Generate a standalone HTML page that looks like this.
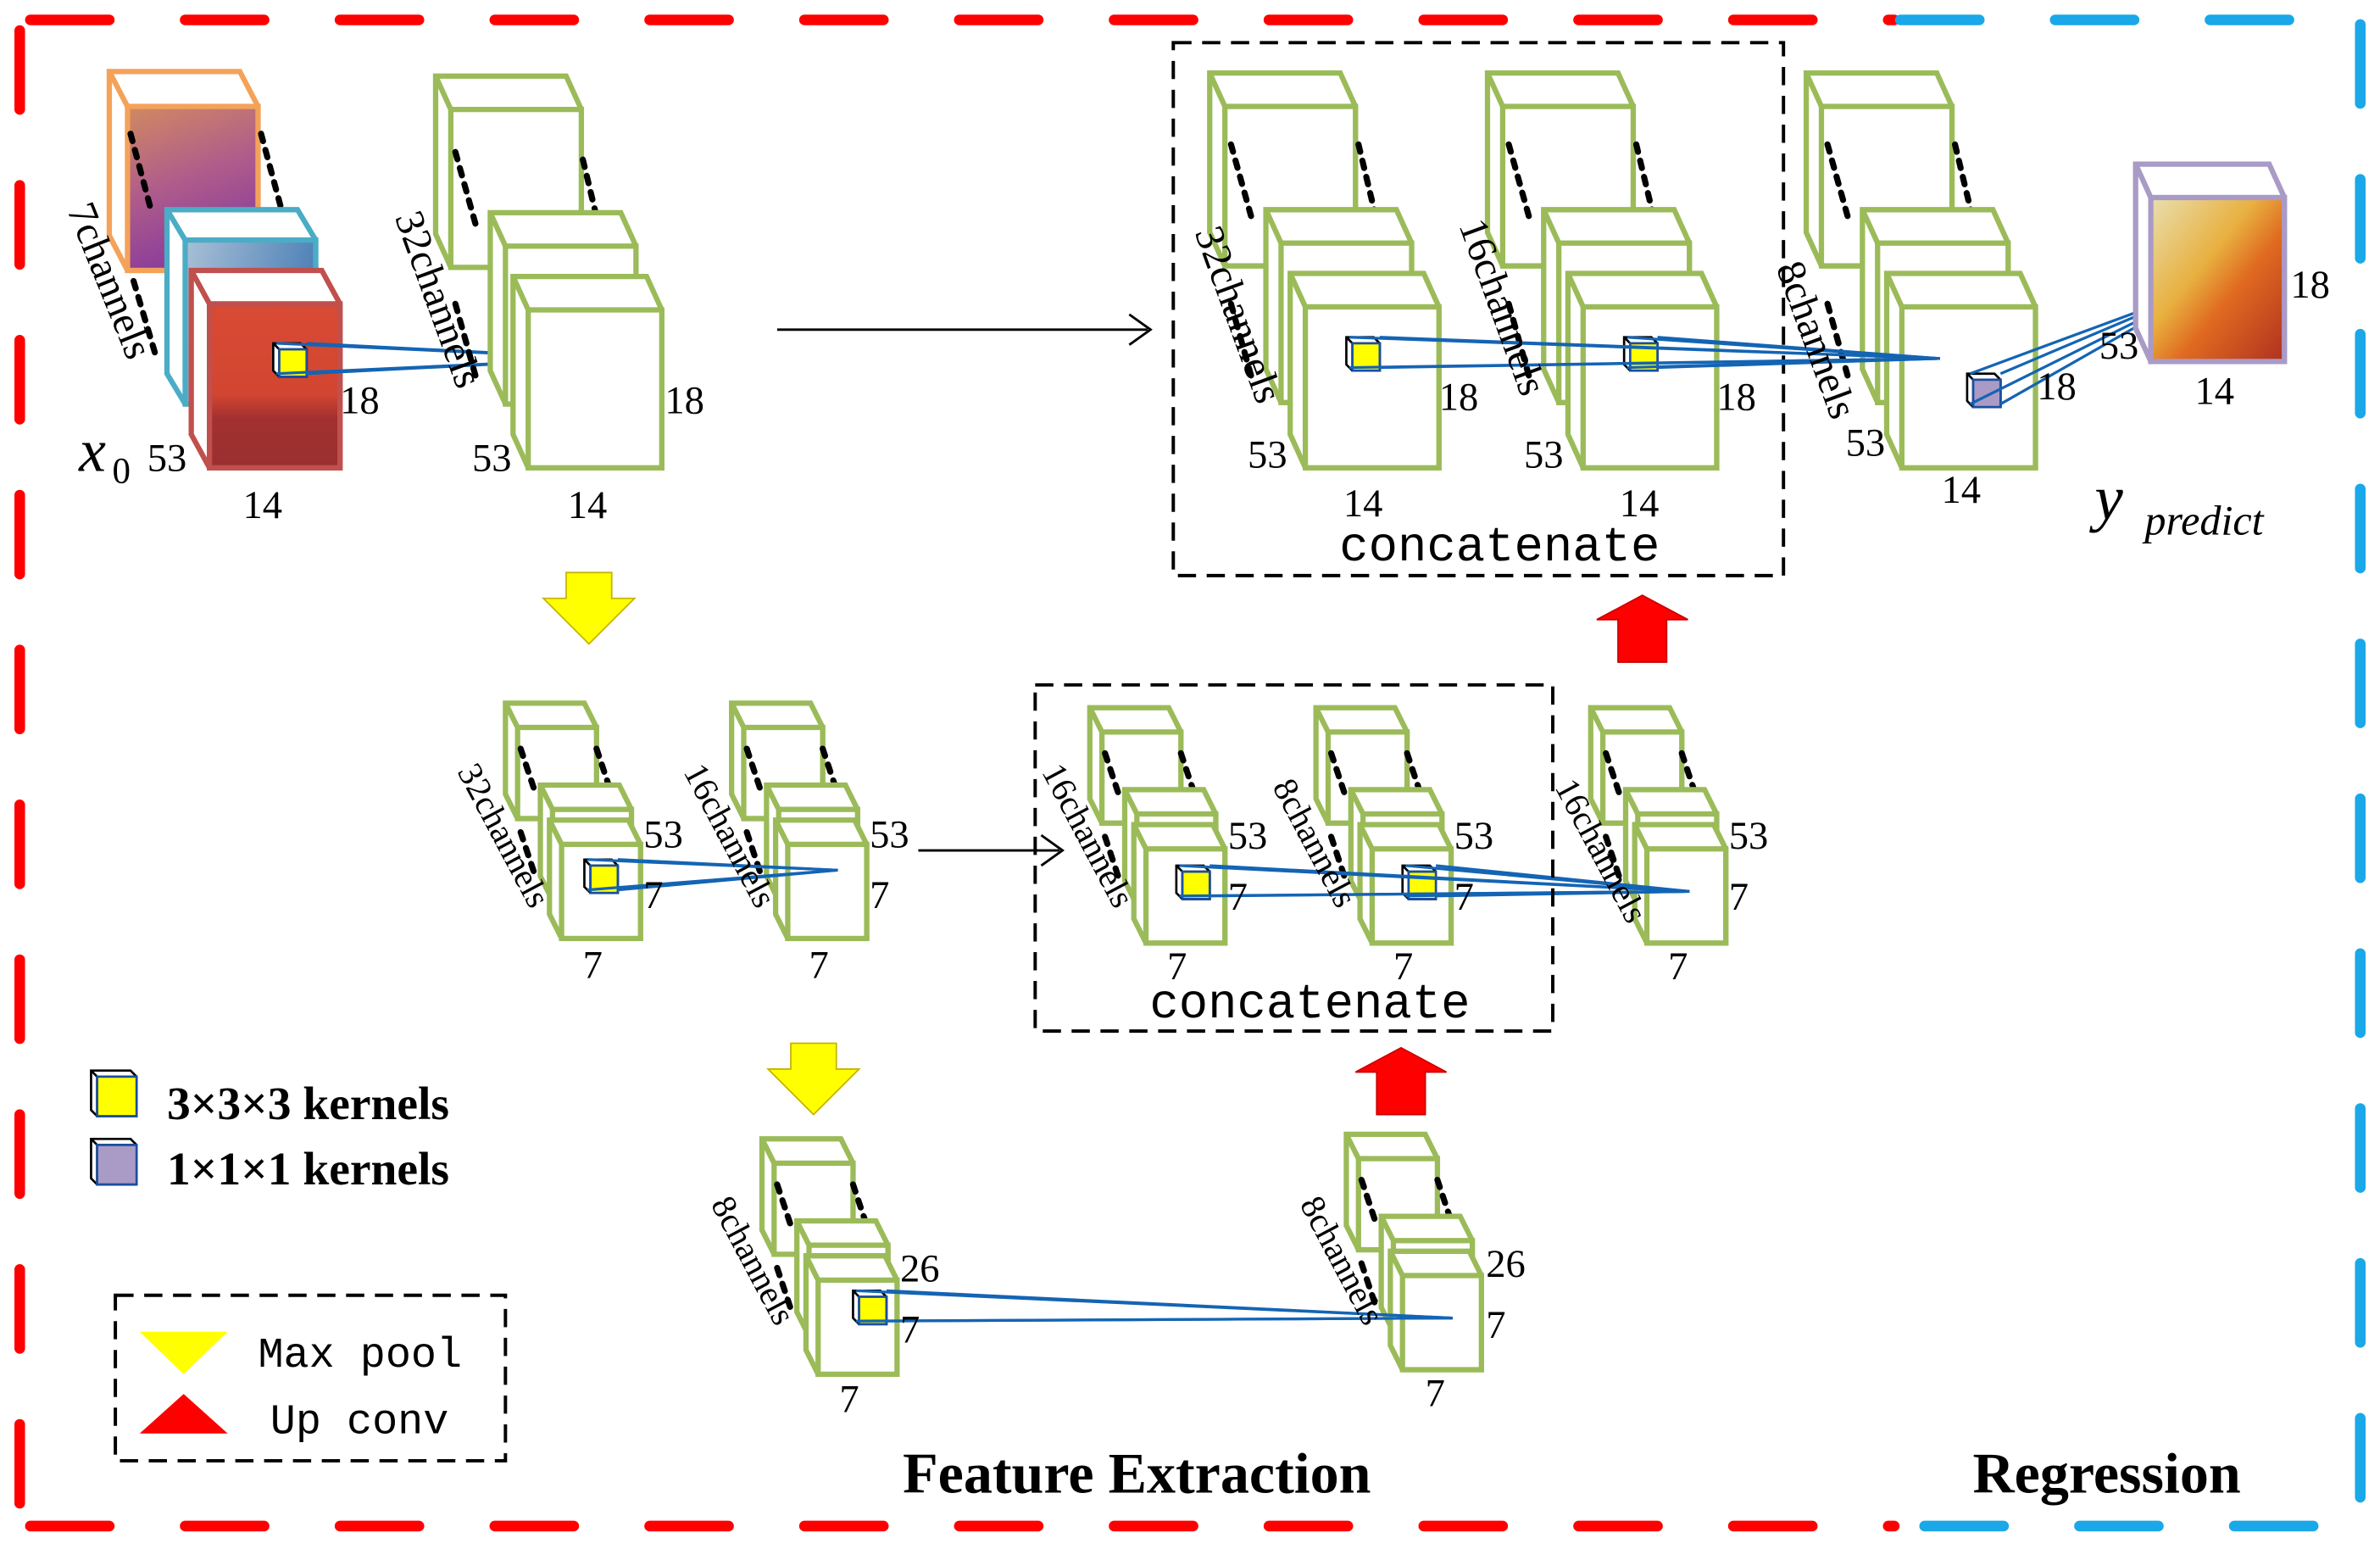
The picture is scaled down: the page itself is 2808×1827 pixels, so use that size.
<!DOCTYPE html>
<html><head><meta charset="utf-8"><style>
html,body{margin:0;padding:0;background:#fff}
svg{display:block}
text{font-family:"Liberation Serif",serif;fill:#000}
.n{font-size:26px}
.ch{font-size:27px}
.cs{font-size:23px}
.m{font-family:"Liberation Mono",monospace}
</style></head><body>
<svg id="s" width="2808" height="1827" viewBox="0 0 1568 1020" xmlns="http://www.w3.org/2000/svg">
<defs>
<linearGradient id="gO" x1="0" y1="0" x2="0.3" y2="1"><stop offset="0" stop-color="#d08a60"/><stop offset="0.5" stop-color="#b15e8a"/><stop offset="1" stop-color="#8a3c9a"/></linearGradient>
<linearGradient id="gB" x1="0" y1="0" x2="1" y2="0.3"><stop offset="0" stop-color="#a9c0d6"/><stop offset="1" stop-color="#4b7fb6"/></linearGradient>
<linearGradient id="gR" x1="0" y1="0" x2="0" y2="1"><stop offset="0" stop-color="#d84a34"/><stop offset="0.55" stop-color="#d24631"/><stop offset="0.7" stop-color="#a33030"/><stop offset="1" stop-color="#9a2f30"/></linearGradient>
<linearGradient id="gP" x1="0" y1="0" x2="1" y2="1"><stop offset="0" stop-color="#e8e0b0"/><stop offset="0.4" stop-color="#e8b040"/><stop offset="0.6" stop-color="#e06a20"/><stop offset="1" stop-color="#b03020"/></linearGradient>
</defs>
<g id="g"></g>
</svg>
<script>
var g=document.getElementById('g'),H='';
function cube(x,y,w,h,ox,oy,st,fill,sw){sw=sw||3.5;
 H+='<polygon points="'+(x-ox)+','+(y-oy)+' '+(x-ox+w)+','+(y-oy)+' '+(x+w)+','+y+' '+(x+w)+','+(y+h)+' '+x+','+(y+h)+' '+(x-ox)+','+(y-oy+h)+'" fill="#fff" stroke="'+st+'" stroke-width="'+sw+'"/>';
 H+='<rect x="'+x+'" y="'+y+'" width="'+w+'" height="'+h+'" fill="'+fill+'" stroke="'+st+'" stroke-width="'+sw+'"/>';
 H+='<line x1="'+x+'" y1="'+y+'" x2="'+(x-ox)+'" y2="'+(y-oy)+'" stroke="'+st+'" stroke-width="'+sw+'"/>';
}
function dots(x1,y1,x2,y2){H+='<line x1="'+x1+'" y1="'+y1+'" x2="'+x2+'" y2="'+y2+'" stroke="#000" stroke-width="4" stroke-dasharray="5 6" stroke-linecap="round"/>';}
function t(x,y,s,c,extra){H+='<text x="'+x+'" y="'+y+'" class="'+(c||'n')+'" '+(extra||'')+'>'+s+'</text>';}
function rt(x,y,s,a,c){H+='<text x="'+x+'" y="'+y+'" class="'+(c||'ch')+'" transform="rotate('+a+' '+x+' '+y+')">'+s+'</text>';}
function ker(x,y,s,col){cube(x+4,y+4,s-4,s-4,4,4,'#000',col,1.5);H+='<rect x="'+(x+4)+'" y="'+(y+4)+'" width="'+(s-4)+'" height="'+(s-4)+'" fill="'+col+'" stroke="#1a4fa0" stroke-width="1.5"/>';}
function lines(x,y,s,tx,ty){[[x,y],[x+s,y],[x,y+s],[x+s,y+s]].forEach(function(p){H+='<line x1="'+p[0]+'" y1="'+p[1]+'" x2="'+tx+'" y2="'+ty+'" stroke="#1464b4" stroke-width="1.8"/>';});}
var G='#9bbb59';
H+='<path d="M20,13 H1248 M13,20 V1005 M20,1005 H1248" stroke="#f00" stroke-width="7" stroke-linecap="round" stroke-dasharray="52 50" fill="none"/>';
H+='<path d="M1252,13 H1555 V1005 H1252" stroke="#1aa8e8" stroke-width="7" stroke-linecap="round" stroke-dasharray="52 50" fill="none"/>';
cube(84,70,86,108,12,23,'#f4a25a','url(#gO)');
dots(172,88,186,140);dots(88,185,102,232);dots(86,88,100,140);
cube(122,158,86,108,12,20,'#4bacc6','url(#gB)');
cube(138,200,86,108,12,22,'#c0504d','url(#gR)');
ker(180,226,22,'#ff0');lines(182,226,20,400,236);
rt(44,138,'7channels',68);t(224,272,'18');t(97,310,'53');t(160,341,'14');
t(52,310,'x','n','style="font-size:40px;font-style:italic"');t(74,318,'0','n','style="font-size:24px"');
cube(297,72,86,104,10,22,G,'#fff');dots(300,100,314,150);dots(384,105,396,155);
cube(333,162,86,104,10,22,G,'#fff');dots(300,200,314,250);
cube(348,204,88,104,10,22,G,'#fff');
rt(260,143,'32channels',70);t(438,272,'18');t(311,310,'53');t(374,341,'14');
H+='<line x1="512" y1="217" x2="756" y2="217" stroke="#000" stroke-width="1.6"/><path d="M744,207 L758,217 L744,227" fill="none" stroke="#000" stroke-width="1.6"/>';
H+='<rect x="773" y="28" width="402" height="351" fill="none" stroke="#000" stroke-width="2.2" stroke-dasharray="12 7"/>';
t(988,369,'concatenate','m','text-anchor="middle" style="font-size:32px"');
function big(bx){cube(bx+10,70,86,105,10,22,G,'#fff');dots(bx+14,95,bx+28,145);dots(bx+98,95,bx+110,145);
cube(bx+47,160,86,105,10,22,G,'#fff');dots(bx+14,200,bx+28,250);cube(bx+63,202,88,106,10,22,G,'#fff');}
big(797);big(980);big(1190);
ker(887,222,22,'#ff0');ker(1070,222,22,'#ff0');ker(1296,246,22,'#a99bc6');
lines(889,222,20,1278,236);lines(1072,222,20,1278,236);lines(1298,246,20,1455,188);
rt(787,153,'32channels',70);t(948,270,'18');t(822,308,'53');t(885,340,'14');
rt(961,148,'16channels',70);t(1131,270,'18');t(1004,308,'53');t(1067,340,'14');
rt(1170,176,'8channels',70);t(1342,263,'18');t(1216,300,'53');t(1279,331,'14');
cube(1417,130,88,108,10,22,'#a99bc6','url(#gP)');
t(1509,196,'18');t(1383,236,'53');t(1446,266,'14');
t(1380,342,'y','n','style="font-size:42px;font-style:italic"');t(1413,352,'predict','n','style="font-size:28px;font-style:italic"');
function down(x,y){H+='<polygon points="'+(x-15)+','+y+' '+(x+15)+','+y+' '+(x+15)+','+(y+17)+' '+(x+30)+','+(y+17)+' '+x+','+(y+47)+' '+(x-30)+','+(y+17)+' '+(x-15)+','+(y+17)+'" fill="#ff0" stroke="#c8b400" stroke-width="1"/>';}
function up(x,y){H+='<polygon points="'+x+','+y+' '+(x+30)+','+(y+16)+' '+(x+16)+','+(y+16)+' '+(x+16)+','+(y+44)+' '+(x-16)+','+(y+44)+' '+(x-16)+','+(y+16)+' '+(x-30)+','+(y+16)+'" fill="#f00" stroke="#c00" stroke-width="1"/>';}
down(388,377);up(1082,392);down(536,687);up(923,690);
function sm(bx,by){cube(bx+8,by+16,52,60,8,16,G,'#fff');dots(bx+10,by+30,bx+20,by+60);dots(bx+60,by+30,bx+70,by+60);
cube(bx+31,by+70,52,60,8,16,G,'#fff');dots(bx+10,by+85,bx+20,by+115);cube(bx+37,by+93,52,62,8,16,G,'#fff');}
sm(333,463);sm(482,463);sm(718,466);sm(867,466);sm(1048,466);sm(502,750);sm(887,747);
ker(385,566,22,'#ff0');lines(387,566,20,552,573);
ker(775,570,22,'#ff0');ker(924,570,22,'#ff0');lines(777,570,20,1113,587);lines(926,570,20,1113,587);
ker(562,850,22,'#ff0');lines(564,850,20,957,868);
rt(301,508,'32channels',62,'cs');t(424,558,'53');t(424,598,'7');t(384,644,'7');
rt(450,508,'16channels',62,'cs');t(573,558,'53');t(573,598,'7');t(533,644,'7');
H+='<line x1="605" y1="560" x2="698" y2="560" stroke="#000" stroke-width="1.6"/><path d="M686,550 L700,560 L686,570" fill="none" stroke="#000" stroke-width="1.6"/>';
H+='<rect x="682" y="451" width="341" height="228" fill="none" stroke="#000" stroke-width="2.2" stroke-dasharray="12 7"/>';
t(863,670,'concatenate','m','text-anchor="middle" style="font-size:32px"');
rt(686,508,'16channels',62,'cs');t(809,559,'53');t(809,599,'7');t(769,645,'7');
rt(838,518,'8channels',62,'cs');t(958,559,'53');t(958,599,'7');t(918,645,'7');
rt(1024,518,'16channels',62,'cs');t(1139,559,'53');t(1139,599,'7');t(1099,645,'7');
rt(468,793,'8channels',62,'cs');t(593,844,'26');t(593,884,'7');t(553,930,'7');
rt(856,793,'8channels',62,'cs');t(979,841,'26');t(979,881,'7');t(939,926,'7');
ker(60,705,30,'#ff0');t(110,737,'3×3×3 kernels','n','style="font-size:31px;font-weight:bold"');
ker(60,750,30,'#a99bc6');t(110,780,'1×1×1 kernels','n','style="font-size:31px;font-weight:bold"');
H+='<rect x="76" y="853" width="257" height="109" fill="none" stroke="#000" stroke-width="2.2" stroke-dasharray="12 7"/>';
H+='<polygon points="92,877 150,877 121,905" fill="#ff0"/><polygon points="92,944 150,944 121,918" fill="#f00"/>';
t(170,900,'Max pool','m','style="font-size:28px"');t(178,944,'Up conv','m','style="font-size:28px"');
t(749,983,'Feature Extraction','n','text-anchor="middle" style="font-size:38px;font-weight:bold"');
t(1388,983,'Regression','n','text-anchor="middle" style="font-size:38px;font-weight:bold"');
g.innerHTML=H;
</script>
</body></html>
